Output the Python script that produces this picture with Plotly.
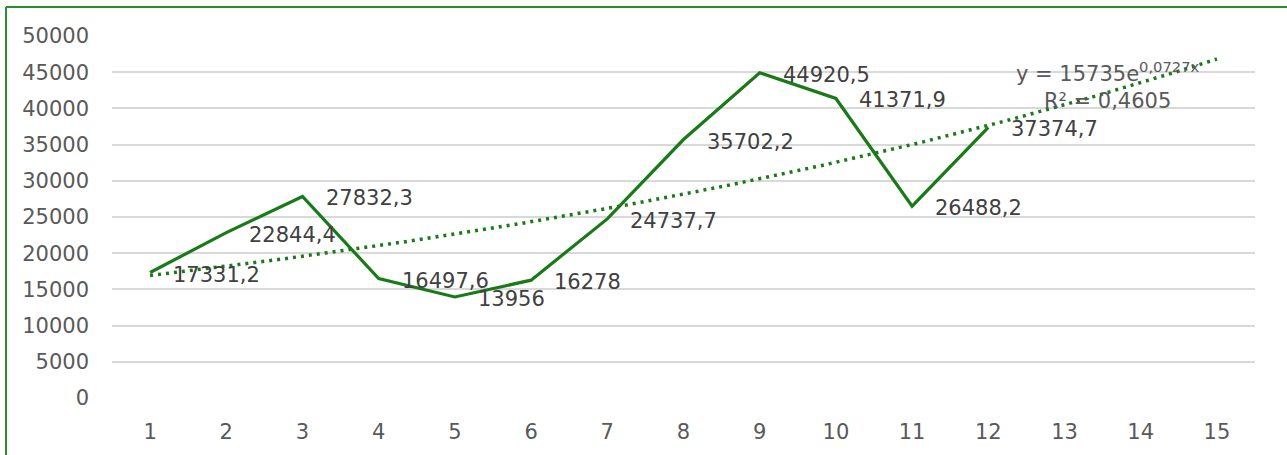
import numpy as np
import plotly.graph_objects as go

# Period numbers and observed values
periods = [1, 2, 3, 4, 5, 6, 7, 8, 9, 10, 11, 12]
values = [17331.2, 22844.4, 27832.3, 16497.6, 13956, 16278, 24737.7,
          35702.2, 44920.5, 41371.9, 26488.2, 37374.7]

# Exponential trend y = a * e^(b x), extended to period 15
trend_a = 15735
trend_b = 0.0727
trend_r2 = 0.4605
trend_end = 15

x_ticks = list(range(1, 16))
y_ticks = list(range(0, 50001, 5000))

GREEN = "#1a7a1a"
FONT = "DejaVu Sans"
SIZE = 21


def comma(v):
    return f"{v:g}".replace(".", ",")


trend_x = np.linspace(1, trend_end, 200)
trend_y = trend_a * np.exp(trend_b * trend_x)

fig = go.Figure()
fig.add_trace(go.Scatter(
    x=trend_x, y=trend_y, mode="lines",
    line=dict(color=GREEN, width=3.5, dash="3px,5px"),
    hoverinfo="skip", showlegend=False,
))
fig.add_trace(go.Scatter(
    x=periods, y=values, mode="lines",
    line=dict(color=GREEN, width=3.2),
    showlegend=False,
))

annotations = []
for xv, yv in zip(periods, values):
    annotations.append(dict(
        x=xv, y=yv, xref="x", yref="y", text=comma(yv), showarrow=False,
        xanchor="left", yanchor="middle", xshift=21, yshift=-2,
        font=dict(family=FONT, size=SIZE, color="#404040"),
    ))

annotations.append(dict(
    x=13.57, y=43100, xref="x", yref="y", showarrow=False,
    text=(f"y = {trend_a}e<sup>{comma(trend_b)}x</sup><br>"
          f"R² = {comma(trend_r2)}"),
    align="center", xanchor="center", yanchor="middle",
    font=dict(family=FONT, size=SIZE, color="#595959"),
))

# Chart border (top and left edges fall inside the canvas)
shapes = [
    dict(type="line", xref="paper", yref="paper",
         x0=-0.0927, x1=1.1, y0=1.080, y1=1.080,
         line=dict(color="#2e8b2e", width=2)),
    dict(type="line", xref="paper", yref="paper",
         x0=-0.0927, x1=-0.0927, y0=-0.3, y1=1.080,
         line=dict(color="#2e8b2e", width=2)),
]

fig.update_layout(
    width=1287, height=455,
    margin=dict(l=112, r=32, t=36, b=57),
    paper_bgcolor="white", plot_bgcolor="white",
    font=dict(family=FONT, size=SIZE, color="#595959"),
    annotations=annotations, shapes=shapes,
    showlegend=False,
)
fig.update_xaxes(
    range=[0.5, 15.5], tickvals=x_ticks, ticktext=[str(t) for t in x_ticks],
    showgrid=False, zeroline=False, showline=False, ticks="",
    ticklabelstandoff=19,
    tickfont=dict(family=FONT, size=SIZE, color="#595959"),
)
fig.update_yaxes(
    range=[0, 50000], tickvals=y_ticks, ticktext=[str(t) for t in y_ticks],
    showgrid=True, gridcolor="#d9d9d9", gridwidth=1.5,
    zeroline=False, showline=False, ticks="",
    ticklabelstandoff=22,
    tickfont=dict(family=FONT, size=SIZE, color="#595959"),
)

fig.write_html("out.html")
